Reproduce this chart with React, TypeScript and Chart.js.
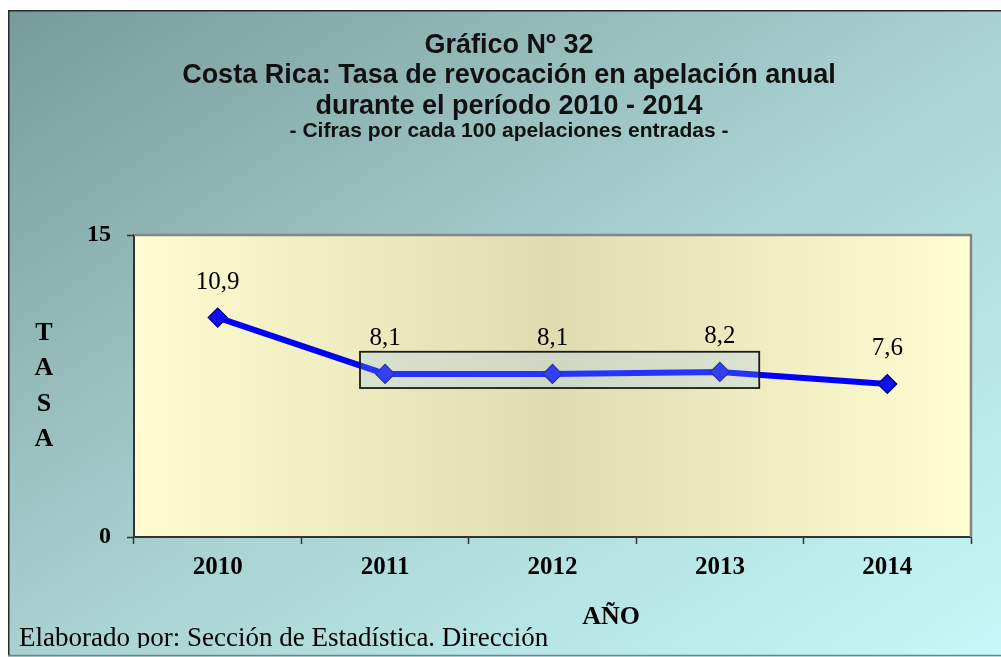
import React, { useEffect, useRef } from 'react';
import { Chart, registerables } from 'chart.js';

Chart.register(...registerables);

// ---- data ----
const YEARS = ['2010', '2011', '2012', '2013', '2014'];
const RATES = [10.9, 8.1, 8.1, 8.2, 7.6];
const Y_RANGE = [0, 15];
const TITLE_LINES = [
  'Gráfico Nº 32',
  'Costa Rica: Tasa de revocación en apelación anual',
  'durante el período 2010 - 2014',
];
const SUBTITLE = '- Cifras por cada 100 apelaciones entradas -';
const Y_AXIS_LETTERS = ['T', 'A', 'S', 'A'];
const X_AXIS_TITLE = 'AÑO';
const FOOTER = 'Elaborado por: Sección de Estadística. Dirección';
// highlighted group of years (index range) and its value band
const HIGHLIGHT_INDEX = [1, 3];
const HIGHLIGHT_VALUES = [7.4, 9.2];

const SERIF = "'Liberation Serif', 'Times New Roman', serif";
const SANS = "'Liberation Sans', Arial, sans-serif";

const fmt = (v: number) => v.toFixed(1).replace('.', ',');

const decorPlugin = {
  id: 'decor',
  beforeDraw(chart: any) {
    const { ctx, width, height, chartArea: ca } = chart;
    ctx.save();
    const g = ctx.createLinearGradient(0, 0, 592, 908);
    g.addColorStop(0, '#789a9a');
    g.addColorStop(0.5, '#a9d1d1');
    g.addColorStop(1, '#c6f9f9');
    ctx.fillStyle = g;
    ctx.fillRect(0, 0, width, height);
    // outer frame
    ctx.lineWidth = 1.5;
    ctx.strokeStyle = '#2a2a2a';
    ctx.beginPath();
    ctx.moveTo(0.75, height - 1.5);
    ctx.lineTo(0.75, 0.75);
    ctx.lineTo(width, 0.75);
    ctx.stroke();
    ctx.strokeStyle = '#6f8686';
    ctx.beginPath();
    ctx.moveTo(0, height - 1.5);
    ctx.lineTo(width, height - 1.5);
    ctx.stroke();
    // plot area
    const pg = ctx.createLinearGradient(ca.left, 0, ca.right, 0);
    pg.addColorStop(0, '#fefcd0');
    pg.addColorStop(0.5, '#e0dcb0');
    pg.addColorStop(1, '#fffdd2');
    ctx.fillStyle = pg;
    ctx.fillRect(ca.left, ca.top, ca.right - ca.left, ca.bottom - ca.top);
    ctx.restore();
  },
  beforeDatasetsDraw(chart: any) {
    const { ctx, chartArea: ca } = chart;
    ctx.save();
    ctx.strokeStyle = '#858585';
    ctx.lineWidth = 2.5;
    ctx.beginPath();
    ctx.moveTo(ca.left, ca.top);
    ctx.lineTo(ca.right, ca.top);
    ctx.lineTo(ca.right, ca.bottom);
    ctx.stroke();
    ctx.restore();
  },
  afterDatasetsDraw(chart: any) {
    const { ctx } = chart;
    const xs = chart.scales.x;
    const ys = chart.scales.y;
    const step = xs.getPixelForValue(1) - xs.getPixelForValue(0);
    const x0 = xs.getPixelForValue(HIGHLIGHT_INDEX[0]) - step * 0.15;
    const x1 = xs.getPixelForValue(HIGHLIGHT_INDEX[1]) + step * 0.235;
    const y0 = ys.getPixelForValue(HIGHLIGHT_VALUES[1]);
    const y1 = ys.getPixelForValue(HIGHLIGHT_VALUES[0]);
    ctx.save();
    ctx.fillStyle = 'rgba(150, 203, 255, 0.25)';
    ctx.fillRect(x0, y0, x1 - x0, y1 - y0);
    ctx.strokeStyle = '#1a1a1a';
    ctx.lineWidth = 1.8;
    ctx.strokeRect(x0, y0, x1 - x0, y1 - y0);
    // data labels
    const meta = chart.getDatasetMeta(0);
    ctx.fillStyle = '#000';
    ctx.font = `25px ${SERIF}`;
    ctx.textAlign = 'center';
    ctx.textBaseline = 'alphabetic';
    meta.data.forEach((pt: any, i: number) => {
      ctx.fillText(fmt(RATES[i]), pt.x, pt.y - 29);
    });
    ctx.restore();
  },
  afterDraw(chart: any) {
    const { ctx, chartArea: ca, height } = chart;
    ctx.save();
    ctx.fillStyle = '#000';
    ctx.textAlign = 'center';
    ctx.textBaseline = 'alphabetic';
    ctx.font = `bold 26px ${SERIF}`;
    Y_AXIS_LETTERS.forEach((l, i) => {
      ctx.fillText(l, 36, ca.top + 105 + i * 35.3);
    });
    ctx.fillText(X_AXIS_TITLE, ca.left + (ca.right - ca.left) * 0.57, ca.bottom + 87);
    // footer (clipped at bottom like the original)
    ctx.beginPath();
    ctx.rect(0, 0, chart.width, height - 9);
    ctx.clip();
    ctx.textAlign = 'left';
    ctx.font = `27px ${SERIF}`;
    ctx.fillText(FOOTER, 11, height - 11);
    ctx.restore();
  },
};

export default function App() {
  const ref = useRef<HTMLCanvasElement | null>(null);
  useEffect(() => {
    if (!ref.current) return;
    const chart = new Chart(ref.current, {
      type: 'line',
      data: {
        labels: YEARS,
        datasets: [
          {
            data: RATES,
            borderColor: '#0000ff',
            borderWidth: 6,
            tension: 0,
            pointStyle: 'rectRot',
            pointRadius: 9.5,
            pointHoverRadius: 9.5,
            pointBackgroundColor: '#1010ee',
            pointBorderColor: '#000080',
            pointBorderWidth: 1.2,
            fill: false,
          },
        ],
      },
      options: {
        responsive: false,
        animation: false,
        devicePixelRatio: 1,
        layout: { padding: { left: 39, right: 30, top: 0, bottom: 0 } },
        plugins: {
          legend: { display: false },
          tooltip: { enabled: false },
          title: {
            display: true,
            text: TITLE_LINES,
            color: '#111',
            font: { family: SANS, size: 27, weight: 'bold', lineHeight: '30.5px' },
            padding: { top: 20, bottom: 0 },
          },
          subtitle: {
            display: true,
            text: SUBTITLE,
            color: '#111',
            font: { family: SANS, size: 21, weight: 'bold', lineHeight: '10px' },
            padding: { top: 4.8, bottom: 98.7 },
          },
        },
        scales: {
          x: {
            type: 'category',
            offset: true,
            grid: {
              offset: true,
              drawOnChartArea: false,
              drawTicks: true,
              tickLength: 7,
              tickColor: '#333',
              tickWidth: 1.5,
            },
            border: { display: true, color: '#333', width: 2 },
            ticks: {
              color: '#000',
              font: { family: SERIF, size: 25, weight: 'bold' },
              padding: 9,
              autoSkip: false,
              maxRotation: 0,
            },
            afterFit(scale: any) {
              scale.height = 120;
            },
          },
          y: {
            min: Y_RANGE[0],
            max: Y_RANGE[1],
            grid: {
              drawOnChartArea: false,
              drawTicks: true,
              tickLength: 7,
              tickColor: '#333',
              tickWidth: 1.5,
            },
            border: { display: true, color: '#333', width: 2 },
            ticks: {
              stepSize: Y_RANGE[1] - Y_RANGE[0],
              color: '#000',
              font: { family: SERIF, size: 24, weight: 'bold' },
              padding: 16,
              callback: (v: any) => String(v),
            },
            afterFit(scale: any) {
              scale.width = 87;
            },
          },
        },
      },
      plugins: [decorPlugin],
    } as any);
    return () => chart.destroy();
  }, []);

  return (
    <div style={{ position: 'fixed', left: 8, top: 10, width: 993, height: 647 }}>
      <canvas ref={ref} width={993} height={647} style={{ width: 993, height: 647, display: 'block' }} />
    </div>
  );
}
